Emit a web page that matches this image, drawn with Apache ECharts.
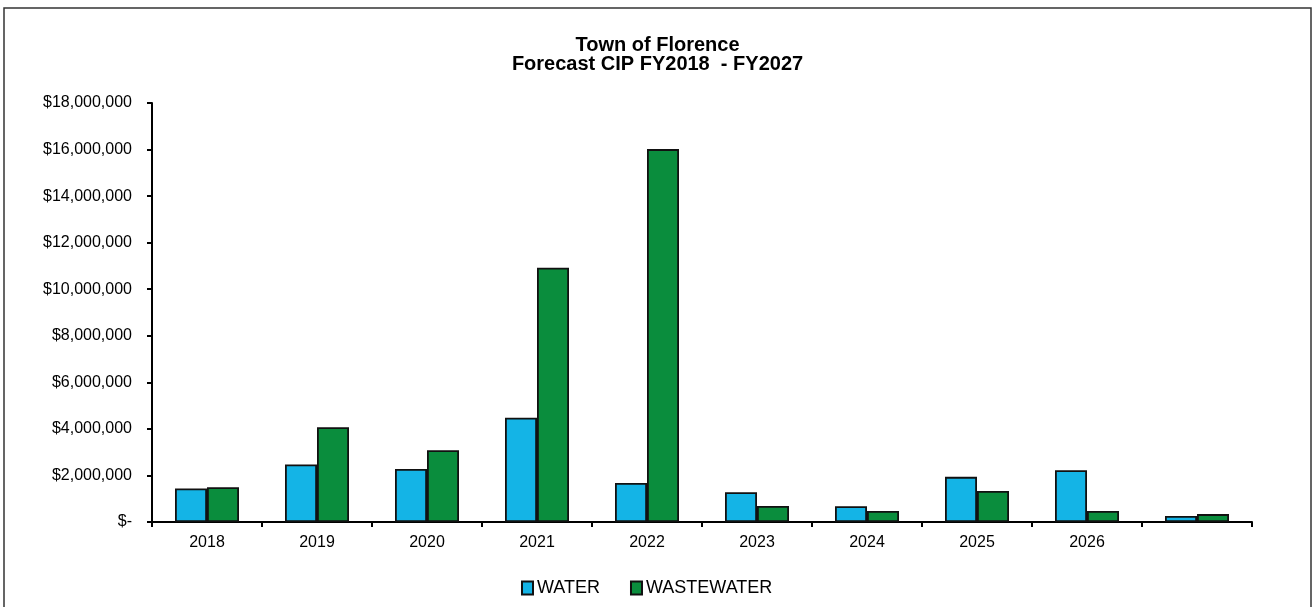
<!DOCTYPE html>
<html>
<head>
<meta charset="utf-8">
<title>Town of Florence</title>
<script src="https://cdn.jsdelivr.net/npm/echarts@6/dist/echarts.min.js"></script>
<style>
    html, body { margin: 0; padding: 0; background: #fff; }
    #chart { width: 1315px; height: 607px; }
</style>
</head>
<body>
<div id="chart"></div>
<script>
    // data
    var categories = ['2018', '2019', '2020', '2021', '2022', '2023', '2024', '2025', '2026', ''];
    var waterValues = [1440000, 2470000, 2280000, 4480000, 1680000, 1280000, 675000, 1940000, 2220000, 260000];
    var wastewaterValues = [1490000, 4070000, 3080000, 10920000, 16020000, 690000, 470000, 1330000, 470000, 340000];
    var yTicks = [0, 2000000, 4000000, 6000000, 8000000, 10000000, 12000000, 14000000, 16000000, 18000000];

    var font = '"Liberation Sans", Arial, sans-serif';

    var myChart = echarts.init(document.getElementById('chart'));
    myChart.setOption({
        animation: false,
        backgroundColor: '#fff',
        title: {
            text: 'Town of Florence\nForecast CIP FY2018  - FY2027',
            left: 'center',
            top: 31,
            textStyle: {
                fontFamily: font,
                fontSize: 20,
                fontWeight: 'bold',
                lineHeight: 19,
                color: '#000'
            }
        },
        legend: {
            left: 516,
            top: 574,
            icon: 'rect',
            itemWidth: 11,
            itemHeight: 13,
            itemGap: 30,
            textStyle: {
                fontFamily: font,
                fontSize: 18,
                color: '#000',
                padding: [0, 0, 0, -1]
            },
            data: ['WATER', 'WASTEWATER']
        },
        graphic: [{
            type: 'rect',
            shape: { x: 4, y: 8, width: 1307, height: 620 },
            style: { fill: 'none', stroke: '#333', lineWidth: 1.5 },
            silent: true
        }],
        grid: {
            left: 152,
            right: 63,
            top: 103,
            bottom: 85
        },
        xAxis: {
            type: 'category',
            data: categories,
            axisLine: { lineStyle: { color: '#000', width: 2 } },
            axisTick: { show: true, length: 5, lineStyle: { color: '#000', width: 2 } },
            axisLabel: {
                fontFamily: font,
                fontSize: 16,
                color: '#000',
                margin: 13
            }
        },
        yAxis: {
            type: 'value',
            min: yTicks[0],
            max: yTicks[yTicks.length - 1],
            interval: yTicks[1] - yTicks[0],
            splitLine: { show: false },
            axisLine: { show: true, lineStyle: { color: '#000', width: 2 } },
            axisTick: { show: true, length: 5, lineStyle: { color: '#000', width: 2 } },
            axisLabel: {
                fontFamily: font,
                fontSize: 16,
                color: '#000',
                margin: 20,
                formatter: function (v) {
                    if (v === 0) return '$-';
                    return '$' + v.toLocaleString('en-US');
                }
            }
        },
        series: [
            {
                name: 'WATER',
                type: 'bar',
                data: waterValues,
                barWidth: 32,
                barGap: '0%',
                itemStyle: {
                    color: '#14b4e6',
                    borderColor: '#111',
                    borderWidth: 1.8
                }
            },
            {
                name: 'WASTEWATER',
                type: 'bar',
                data: wastewaterValues,
                barWidth: 32,
                barGap: '0%',
                itemStyle: {
                    color: '#0a8d3d',
                    borderColor: '#111',
                    borderWidth: 1.8
                }
            }
        ]
    });
</script>
</body>
</html>
